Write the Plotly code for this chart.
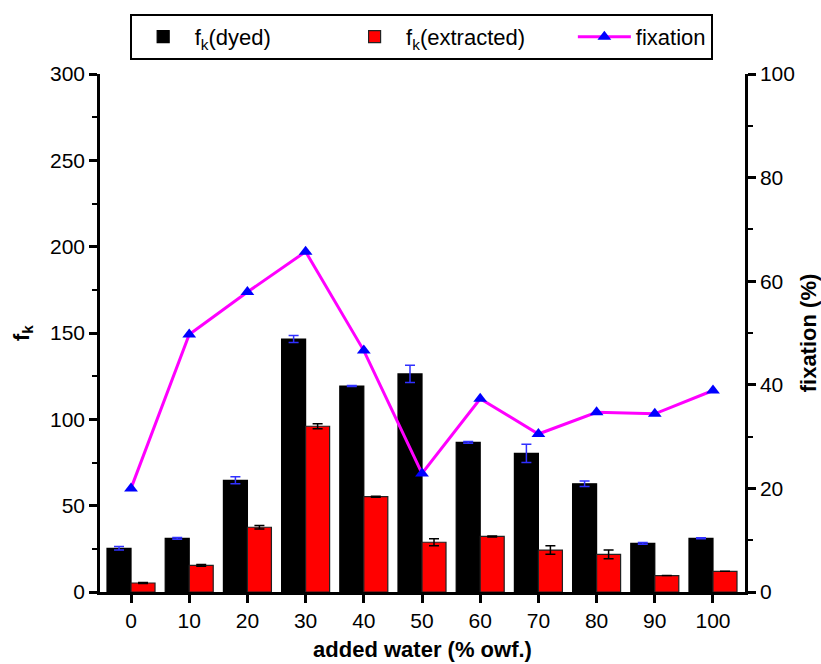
import plotly.graph_objects as go

water = [0, 10, 20, 30, 40, 50, 60, 70, 80, 90, 100]
fk_dyed = [25.3, 31.1, 64.7, 146.5, 119.3, 126.3, 86.7, 80.3, 62.7, 28.2, 31.1]
fk_dyed_err = [1.0, 0.5, 2.0, 2.0, 0.3, 5.0, 0.5, 5.3, 1.6, 0.5, 0.3]
fk_extracted = [5.2, 15.4, 37.5, 96.0, 55.2, 28.8, 32.2, 24.3, 21.8, 9.5, 12.0]
fk_extracted_err = [0.3, 0.5, 1.0, 1.5, 0.3, 2.0, 0.3, 2.5, 2.5, 0.0, 0.0]
fixation = [20.0, 49.7, 57.9, 65.7, 46.6, 22.9, 37.3, 30.5, 34.7, 34.4, 38.9]

FONT = "Liberation Sans, Arial, sans-serif"
NB = "\u00a0"

fig = go.Figure()
fig.add_trace(go.Bar(
    x=water, y=fk_dyed, name="f<sub>k</sub>(dyed)" + NB * 11,
    marker=dict(color="black", line=dict(color="black", width=1.2)),
    error_y=dict(type="data", array=fk_dyed_err, color="#3030ff", thickness=1.5, width=5),
))
fig.add_trace(go.Bar(
    x=water, y=fk_extracted, name="f<sub>k</sub>(extracted)" + NB * 7,
    marker=dict(color="#ff0000", line=dict(color="#222222", width=1.2)),
    error_y=dict(type="data", array=fk_extracted_err, color="black", thickness=1.5, width=5),
))
fig.add_trace(go.Scatter(
    x=water, y=fixation, name="fixation", yaxis="y2", mode="lines+markers",
    line=dict(color="#ff00ff", width=3),
    marker=dict(symbol="triangle-up", size=12, color="#0000ff"),
))

axis_common = dict(
    showline=True, linecolor="black", linewidth=2.5,
    ticks="outside", ticklen=8, tickwidth=2.5, tickcolor="black",
    showgrid=False, zeroline=False, automargin=False,
    tickfont=dict(size=21),
)

fig.update_layout(
    width=821, height=664,
    margin=dict(l=100, r=76, t=74, b=72),
    paper_bgcolor="white", plot_bgcolor="white",
    font=dict(family=FONT, size=21, color="black"),
    barmode="group", bargap=0.175, bargroupgap=0,
    showlegend=True,
    legend=dict(
        orientation="h", x=0.046, xanchor="left", y=1.116, yanchor="top",
        bordercolor="black", borderwidth=2, font=dict(size=22),
        itemwidth=53, traceorder="normal",
    ),
    xaxis=dict(
        range=[-5.33, 105.5], tickmode="array", tickvals=water,
        ticktext=[str(v) for v in water],
        title=dict(text="<b>added water (% owf.)</b>", font=dict(size=22), standoff=11),
        **axis_common,
    ),
    yaxis=dict(
        range=[0, 300], tickvals=[0, 50, 100, 150, 200, 250, 300],
        minor=dict(ticks="outside", ticklen=5, tickwidth=2, tickcolor="black", dtick=25, showgrid=False),
        title=dict(text="<b>f<sub>k</sub></b>", font=dict(size=22), standoff=15),
        **axis_common,
    ),
    yaxis2=dict(
        range=[0, 100], tickvals=[0, 20, 40, 60, 80, 100], overlaying="y", side="right",
        minor=dict(ticks="outside", ticklen=5, tickwidth=2, tickcolor="black", dtick=10, showgrid=False),
        title=dict(text="<b>fixation (%)</b>", font=dict(size=22), standoff=8),
        **axis_common,
    ),
)

fig.write_html("out.html")
